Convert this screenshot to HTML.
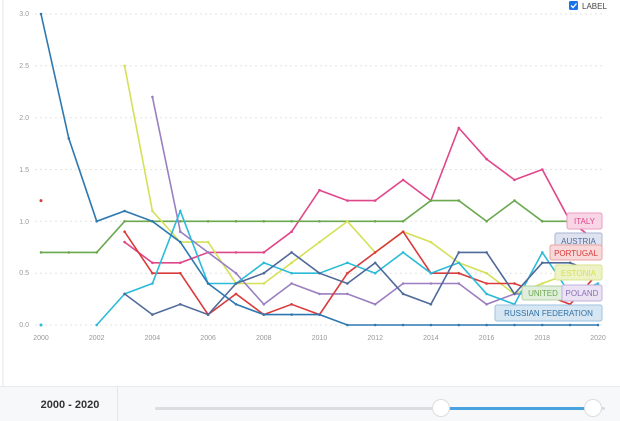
<!DOCTYPE html>
<html><head><meta charset="utf-8"><style>
body{margin:0;width:620px;height:420px;overflow:hidden;background:#fff;font-family:"Liberation Sans",sans-serif}
#c{position:absolute;left:0;top:0}
.bot{position:absolute;left:0;top:386px;width:620px;height:34px;background:#f7f8fa;border-top:1px solid #e8eaee}
</style></head><body>
<svg id="c" width="620" height="386" xmlns="http://www.w3.org/2000/svg">
<line x1="3" y1="0" x2="3" y2="386" stroke="#e6e6e6"/>
<g stroke="#e3e3e3" stroke-dasharray="2,3">
<line x1="35" x2="605" y1="14" y2="14"/><line x1="35" x2="605" y1="65.8" y2="65.8"/>
<line x1="35" x2="605" y1="117.7" y2="117.7"/><line x1="35" x2="605" y1="169.5" y2="169.5"/>
<line x1="35" x2="605" y1="221.3" y2="221.3"/><line x1="35" x2="605" y1="273.2" y2="273.2"/>
<line x1="35" x2="605" y1="325" y2="325"/>
</g>
<g font-size="7" fill="#999" text-anchor="end">
<text x="29" y="16">3.0</text><text x="29" y="68">2.5</text><text x="29" y="120">2.0</text>
<text x="29" y="172">1.5</text><text x="29" y="224">1.0</text><text x="29" y="275">0.5</text><text x="29" y="327">0.0</text>
</g>
<g font-size="7" fill="#999" text-anchor="middle">
<text x="41" y="340">2000</text><text x="96.7" y="340">2002</text><text x="152.4" y="340">2004</text>
<text x="208.1" y="340">2006</text><text x="263.8" y="340">2008</text><text x="319.5" y="340">2010</text>
<text x="375.2" y="340">2012</text><text x="430.9" y="340">2014</text><text x="486.6" y="340">2016</text>
<text x="542.3" y="340">2018</text><text x="598" y="340">2020</text>
</g>
<g id="lines"></g>
<g font-size="8" text-anchor="middle">
<rect x="567" y="213" width="35" height="16" rx="2" fill="#f9d6e6" stroke="#e99cc0"/><text x="584.5" y="224" fill="#e0468a">ITALY</text>
<rect x="555" y="233" width="47" height="15" rx="2" fill="#dfe3f0" stroke="#aab4d2"/><text x="578.5" y="244" fill="#4f6a9a">AUSTRIA</text>
<rect x="550" y="245" width="52" height="15" rx="2" fill="#f8d8d8" stroke="#e9a3a3"/><text x="576" y="256" fill="#d93b3b">PORTUGAL</text>
<rect x="555" y="265" width="47" height="15" rx="2" fill="#eef3c6" stroke="#d8e38d"/><text x="578.5" y="276" fill="#d4e157">ESTONIA</text>
<rect x="522" y="286" width="42" height="14" rx="2" fill="#e0eedb" stroke="#b3d3a7"/><text x="543" y="296" fill="#6aa84f">UNITED</text>
<rect x="562" y="285" width="40" height="16" rx="2" fill="#ebe3f3" stroke="#c3b1dc"/><text x="582" y="296" fill="#8a6fb5">POLAND</text>
<rect x="495" y="305" width="107" height="16" rx="2" fill="#d7e6f3" stroke="#9fc1df"/><text x="548.5" y="316" fill="#2f6fa5">RUSSIAN FEDERATION</text>
</g>
<rect x="569" y="1" width="9" height="9" rx="1.5" fill="#1a73e8"/>
<path d="M571 5.5l2 2 3.5-4" stroke="#fff" stroke-width="1.3" fill="none"/>
<text x="582" y="9" font-size="8" fill="#444">LABEL</text>
</svg>
<div class="bot">
<div style="position:absolute;left:117px;top:0;width:1px;height:34px;background:#e4e6ea"></div>
<div style="position:absolute;left:0;width:140px;top:12px;text-align:center;font-size:11px;font-weight:bold;color:#333">2000 - 2020</div>
<div style="position:absolute;left:155px;top:20px;width:450px;height:3px;background:#dcdde0;border-radius:2px"></div>
<div style="position:absolute;left:440px;top:20px;width:152px;height:3px;background:#4aa3df"></div>
<div style="position:absolute;left:432px;top:12px;width:16px;height:16px;border-radius:50%;background:#fff;border:1px solid #ddd"></div>
<div style="position:absolute;left:584px;top:12px;width:16px;height:16px;border-radius:50%;background:#fff;border:1px solid #ddd"></div>
</div>
<script>
var S=[
["#e0468a",2003,[0.8,0.6,0.6,0.7,0.7,0.7,0.9,1.3,1.2,1.2,1.4,1.2,1.9,1.6,1.4,1.5,1.0,0.8]],
["#6aa84f",2000,[0.7,0.7,0.7,1.0,1.0,1.0,1.0,1.0,1.0,1.0,1.0,1.0,1.0,1.0,1.2,1.2,1.0,1.2,1.0,1.0,1.0]],
["#d4e157",2003,[2.5,1.1,0.8,0.8,0.4,0.4,0.6,0.8,1.0,0.7,0.9,0.8,0.6,0.5,0.3,0.4,0.5,0.5]],
["#9b7fc0",2004,[2.2,0.9,0.7,0.5,0.2,0.4,0.3,0.3,0.2,0.4,0.4,0.4,0.2,0.3,0.3,0.3,0.3]],
["#d93b3b",2003,[0.9,0.5,0.5,0.1,0.3,0.1,0.2,0.1,0.5,0.7,0.9,0.5,0.5,0.4,0.4,0.3,0.2,0.5]],
["#2bbbd8",2002,[0,0.3,0.4,1.1,0.4,0.4,0.6,0.5,0.5,0.6,0.5,0.7,0.5,0.6,0.3,0.2,0.7,0.3,0.4]],
["#4f6a9a",2003,[0.3,0.1,0.2,0.1,0.4,0.5,0.7,0.5,0.4,0.6,0.3,0.2,0.7,0.7,0.3,0.6,0.6,0.5]],
["#2e78b0",2000,[3.0,1.8,1.0,1.1,1.0,0.8,0.4,0.2,0.1,0.1,0.1,0,0,0,0,0,0,0,0,0,0]]
];
function X(y){return 41+(y-2000)*27.85}function Y(v){return 325-v*103.67}
var h="";
S.forEach(function(s){var p=s[2].map(function(v,i){return X(s[1]+i).toFixed(1)+","+Y(v).toFixed(1)});
h+='<polyline points="'+p.join(" ")+'" fill="none" stroke="'+s[0]+'" stroke-width="1.6"/>';
p.forEach(function(q){var a=q.split(",");h+='<circle cx="'+a[0]+'" cy="'+a[1]+'" r="1.3" fill="'+s[0]+'"/>'});});
h+='<circle cx="41" cy="'+Y(1.2)+'" r="1.5" fill="#d93b3b"/><circle cx="41" cy="325" r="1.5" fill="#2bbbd8"/>';
document.getElementById("lines").innerHTML=h;
</script>
</body></html>
